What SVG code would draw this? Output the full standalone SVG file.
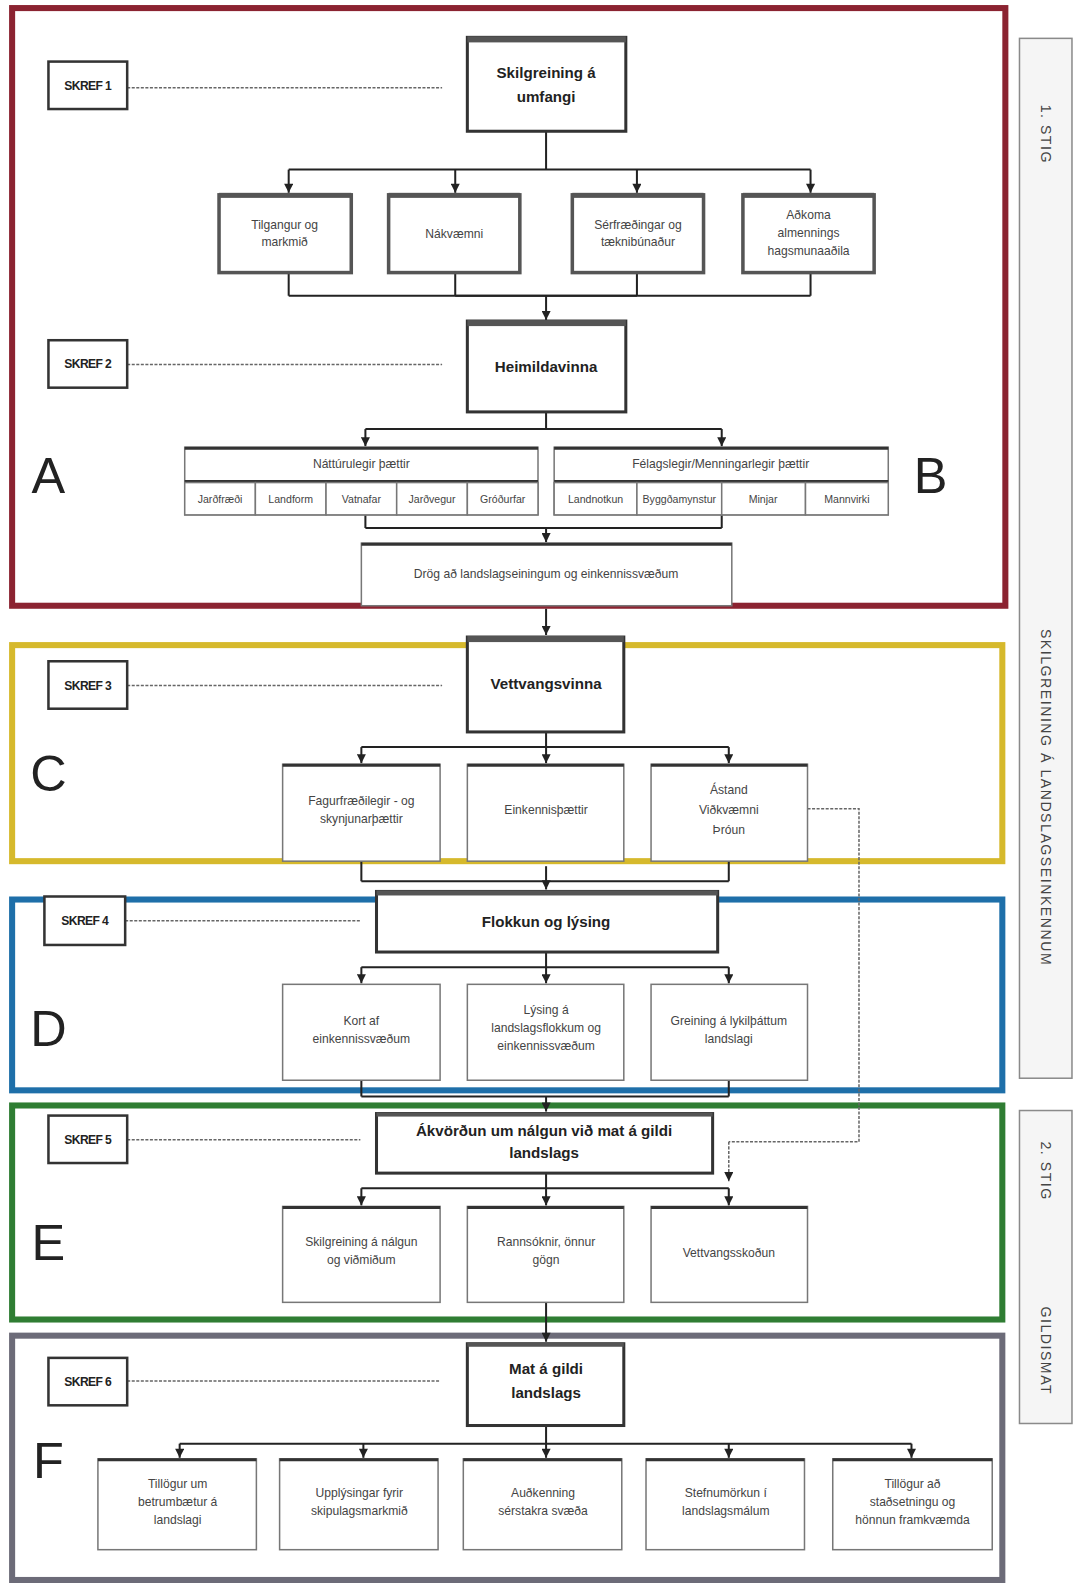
<svg xmlns="http://www.w3.org/2000/svg" width="1075" height="1583" viewBox="0 0 1075 1583">
<defs>
<marker id="ah" viewBox="0 0 10 10" refX="10" refY="5" markerWidth="11" markerHeight="9" markerUnits="userSpaceOnUse" orient="auto">
<path d="M0,0 L10,5 L0,10 Z" fill="#222"/>
</marker>
<style>
text{font-family:"Liberation Sans","DejaVu Sans",Arial,sans-serif;}
.frame{fill:none;stroke-width:6;}
.mb{fill:#fff;stroke:#333;stroke-width:3;}
.bar{fill:#555;}
.b1{fill:#fff;stroke:#555;stroke-width:3.5;}
.sb{fill:#fff;stroke:#777;stroke-width:1.5;}
.top{stroke:#333;stroke-width:3;}
.mt{font-size:15px;font-weight:bold;fill:#222;text-anchor:middle;}
.st{font-size:12px;fill:#444;text-anchor:middle;}
.xs{font-size:10.5px;fill:#444;text-anchor:middle;}
.skb{fill:#fff;stroke:#333;stroke-width:2.5;}
.skt{font-size:12px;font-weight:bold;fill:#222;text-anchor:middle;letter-spacing:-0.6px;}
.let{font-size:50px;fill:#222;text-anchor:middle;}
.dl{fill:none;stroke:#666;stroke-width:1.5;stroke-dasharray:3 1.5;}
.cn{fill:none;stroke:#222;stroke-width:2;}
.ca{fill:none;stroke:#222;stroke-width:2;marker-end:url(#ah);}
.side{fill:#f5f5f5;stroke:#8a8a8a;stroke-width:1.5;}
.sidet{font-size:14px;fill:#444;text-anchor:middle;letter-spacing:1.5px;}
</style>
</defs>
<rect width="1075" height="1583" fill="#fff"/>
<g transform="scale(1.00939 1.00957)">

<g id="frames">
<rect class="frame" x="12" y="8" width="984" height="592" stroke="#8b2331"/>
<rect class="frame" x="12" y="639" width="981" height="214" stroke="#d6b92c"/>
<rect class="frame" x="12" y="891" width="981" height="189" stroke="#1e6fa9"/>
<rect class="frame" x="12" y="1095" width="981" height="212" stroke="#2f7d33"/>
<rect class="frame" x="12" y="1323" width="981" height="242" stroke="#6c6b78"/>
</g>

<g id="letters">
<text class="let" x="48" y="488">A</text>
<text class="let" x="922" y="488">B</text>
<text class="let" x="48" y="784">C</text>
<text class="let" x="48" y="1036">D</text>
<text class="let" x="48" y="1248">E</text>
<text class="let" x="48" y="1464">F</text>
</g>

<g id="connectors">
<path class="cn" d="M541,130 V168 M286,168 H803"/>
<path class="ca" d="M286,168 V191"/>
<path class="ca" d="M451,168 V191"/>
<path class="ca" d="M631,168 V191"/>
<path class="ca" d="M803,168 V191"/>
<path class="cn" d="M286,270 V293 M451,270 V293 M631,270 V293 M803,270 V293 M286,293 H803"/>
<path class="cn" d="M451,293 H631" stroke-width="3.5"/>
<path class="ca" d="M541,293 V317"/>
<path class="cn" d="M541,408 V425 M362,425 H715"/>
<path class="ca" d="M362,425 V442"/>
<path class="ca" d="M715,425 V442"/>
<path class="cn" d="M362,510 V523 M715,510 V523 M362,523 H715"/>
<path class="ca" d="M541,523 V537"/>
<path class="ca" d="M541,603 V629"/>
<path class="cn" d="M541,725 V740 M358,740 H722"/>
<path class="ca" d="M358,740 V756"/>
<path class="ca" d="M541,740 V756"/>
<path class="ca" d="M722,740 V756"/>
<path class="cn" d="M358,853 V873 M722,853 V873 M358,873 H722"/>
<path class="ca" d="M541,858 V881"/>
<path class="cn" d="M541,943 V958 M358,958 H722"/>
<path class="ca" d="M358,958 V974"/>
<path class="ca" d="M541,958 V974"/>
<path class="ca" d="M722,958 V974"/>
<path class="cn" d="M358,1070 V1086 M722,1070 V1086 M358,1086 H722"/>
<path class="ca" d="M541,1086 V1101"/>
<path class="dl" d="M800,801 H851 V1131 H722"/>
<path d="M722,1131 V1170" fill="none" stroke="#666" stroke-width="1.5" stroke-dasharray="3 1.5" marker-end="url(#ah)"/>
<path class="cn" d="M541,1162 V1177 M358,1177 H722"/>
<path class="ca" d="M358,1177 V1194"/>
<path class="ca" d="M541,1177 V1194"/>
<path class="ca" d="M722,1177 V1194"/>
<path class="ca" d="M541,1290 V1329"/>
<path class="cn" d="M541,1412 V1430 M178,1430 H903"/>
<path class="ca" d="M178,1430 V1444"/>
<path class="ca" d="M360,1430 V1444"/>
<path class="ca" d="M541,1430 V1444"/>
<path class="ca" d="M722,1430 V1444"/>
<path class="ca" d="M903,1430 V1444"/>
<path class="dl" d="M126,87 H438 M126,361 H438 M126,679 H438 M124,912 H357 M126,1129 H357 M126,1368 H435"/>
</g>

<g id="skref1"><rect class="skb" x="48" y="61" width="78" height="47"/><text class="skt" x="87" y="89">SKREF 1</text></g>
<g id="skref2"><rect class="skb" x="48" y="337" width="78" height="47"/><text class="skt" x="87" y="365">SKREF 2</text></g>
<g id="skref3"><rect class="skb" x="48" y="655" width="78" height="47"/><text class="skt" x="87" y="683">SKREF 3</text></g>
<g id="skref4"><rect class="skb" x="44" y="888" width="80" height="48"/><text class="skt" x="84" y="916">SKREF 4</text></g>
<g id="skref5"><rect class="skb" x="48" y="1105" width="78" height="47"/><text class="skt" x="87" y="1133">SKREF 5</text></g>
<g id="skref6"><rect class="skb" x="48" y="1345" width="78" height="47"/><text class="skt" x="87" y="1373">SKREF 6</text></g>

<g id="n-skilgreining"><rect class="mb" x="463" y="37" width="157" height="93"/><rect class="bar" x="463" y="36" width="157" height="6"/>
<text class="mt" x="541" y="77" font-size="16">Skilgreining á</text><text class="mt" x="541" y="101" font-size="16">umfangi</text></g>

<g id="n-tilgangur"><rect class="b1" x="217" y="193" width="131" height="77"/><rect class="bar" x="217" y="191" width="131" height="5"/>
<text class="st" x="282" y="227">Tilgangur og</text><text class="st" x="282" y="244">markmið</text></g>
<g id="n-nakvaemni"><rect class="b1" x="385" y="193" width="130" height="77"/><rect class="bar" x="385" y="191" width="130" height="5"/>
<text class="st" x="450" y="236">Nákvæmni</text></g>
<g id="n-serfraedingar"><rect class="b1" x="567" y="193" width="130" height="77"/><rect class="bar" x="567" y="191" width="130" height="5"/>
<text class="st" x="632" y="227">Sérfræðingar og</text><text class="st" x="632" y="244">tæknibúnaður</text></g>
<g id="n-adkoma"><rect class="b1" x="736" y="193" width="130" height="77"/><rect class="bar" x="736" y="191" width="130" height="5"/>
<text class="st" x="801" y="217">Aðkoma</text><text class="st" x="801" y="235">almennings</text><text class="st" x="801" y="253">hagsmunaaðila</text></g>

<g id="n-heimildavinna"><rect class="mb" x="463" y="318" width="157" height="90"/><rect class="bar" x="463" y="317" width="157" height="6"/>
<text class="mt" x="541" y="368">Heimildavinna</text></g>

<g id="n-natturulegir"><rect class="sb" x="183" y="443" width="350" height="67"/><line class="top" x1="183" y1="444" x2="533" y2="444"/><line class="top" x1="183" y1="477" x2="533" y2="477"/>
<text class="st" x="358" y="464">Náttúrulegir þættir</text>
<rect class="sb" x="183" y="478" width="70" height="32"/><rect class="sb" x="253" y="478" width="70" height="32"/><rect class="sb" x="323" y="478" width="70" height="32"/><rect class="sb" x="393" y="478" width="70" height="32"/><rect class="sb" x="463" y="478" width="70" height="32"/>
<text class="xs" x="218" y="498">Jarðfræði</text><text class="xs" x="288" y="498">Landform</text><text class="xs" x="358" y="498">Vatnafar</text><text class="xs" x="428" y="498">Jarðvegur</text><text class="xs" x="498" y="498">Gróðurfar</text></g>

<g id="n-felagslegir"><rect class="sb" x="549" y="443" width="331" height="67"/><line class="top" x1="549" y1="444" x2="880" y2="444"/><line class="top" x1="549" y1="477" x2="880" y2="477"/>
<text class="st" x="714" y="464">Félagslegir/Menningarlegir þættir</text>
<rect class="sb" x="549" y="478" width="82" height="32"/><rect class="sb" x="631" y="478" width="84" height="32"/><rect class="sb" x="715" y="478" width="83" height="32"/><rect class="sb" x="798" y="478" width="82" height="32"/>
<text class="xs" x="590" y="498">Landnotkun</text><text class="xs" x="673" y="498">Byggðamynstur</text><text class="xs" x="756" y="498">Minjar</text><text class="xs" x="839" y="498">Mannvirki</text></g>

<g id="n-drog"><rect class="sb" x="358" y="538" width="367" height="62"/><line class="top" x1="358" y1="539" x2="725" y2="539"/>
<text class="st" x="541" y="573">Drög að landslagseiningum og einkennissvæðum</text></g>

<g id="n-vettvangsvinna"><rect class="mb" x="463" y="631" width="155" height="94"/><rect class="bar" x="463" y="630" width="155" height="6"/>
<text class="mt" x="541" y="682">Vettvangsvinna</text></g>

<g id="n-fagurfraedilegir"><rect class="sb" x="280" y="757" width="156" height="96"/><line class="top" x1="280" y1="758" x2="436" y2="758"/>
<text class="st" x="358" y="797">Fagurfræðilegir - og</text><text class="st" x="358" y="815">skynjunarþættir</text></g>
<g id="n-einkennisthaettir"><rect class="sb" x="463" y="757" width="155" height="96" stroke="#444"/><line class="top" x1="463" y1="758" x2="618" y2="758"/>
<text class="st" x="541" y="806">Einkennisþættir</text></g>
<g id="n-astand"><rect class="sb" x="645" y="757" width="155" height="96"/><line class="top" x1="645" y1="758" x2="800" y2="758"/>
<text class="st" x="722" y="786">Ástand</text><text class="st" x="722" y="806">Viðkvæmni</text><text class="st" x="722" y="826">Þróun</text></g>

<g id="n-flokkun"><rect class="mb" x="373" y="883" width="338" height="60"/><rect class="bar" x="373" y="882" width="338" height="5"/>
<text class="mt" x="541" y="918">Flokkun og lýsing</text></g>

<g id="n-kort"><rect class="sb" x="280" y="975" width="156" height="95"/>
<text class="st" x="358" y="1015">Kort af</text><text class="st" x="358" y="1033">einkennissvæðum</text></g>
<g id="n-lysing"><rect class="sb" x="463" y="975" width="155" height="95"/>
<text class="st" x="541" y="1004">Lýsing á</text><text class="st" x="541" y="1022">landslagsflokkum og</text><text class="st" x="541" y="1040">einkennissvæðum</text></g>
<g id="n-greining"><rect class="sb" x="645" y="975" width="155" height="95"/>
<text class="st" x="722" y="1015">Greining á lykilþáttum</text><text class="st" x="722" y="1033">landslagi</text></g>

<g id="n-akvordun"><rect class="mb" x="373" y="1103" width="333" height="59"/><rect class="bar" x="373" y="1102" width="333" height="4"/>
<text class="mt" x="539" y="1125">Ákvörðun um nálgun við mat á gildi</text><text class="mt" x="539" y="1147">landslags</text></g>

<g id="n-skilgreining-nalgun"><rect class="sb" x="280" y="1195" width="156" height="95"/><line class="top" x1="280" y1="1196" x2="436" y2="1196"/>
<text class="st" x="358" y="1234">Skilgreining á nálgun</text><text class="st" x="358" y="1252">og viðmiðum</text></g>
<g id="n-rannsoknir"><rect class="sb" x="463" y="1195" width="155" height="95"/><line class="top" x1="463" y1="1196" x2="618" y2="1196"/>
<text class="st" x="541" y="1234">Rannsóknir, önnur</text><text class="st" x="541" y="1252">gögn</text></g>
<g id="n-vettvangsskodun"><rect class="sb" x="645" y="1195" width="155" height="95"/><line class="top" x1="645" y1="1196" x2="800" y2="1196"/>
<text class="st" x="722" y="1245">Vettvangsskoðun</text></g>

<g id="n-mat"><rect class="mb" x="463" y="1331" width="155" height="81"/><rect class="bar" x="463" y="1330" width="155" height="4"/>
<text class="mt" x="541" y="1361" font-size="16">Mat á gildi</text><text class="mt" x="541" y="1385" font-size="16">landslags</text></g>

<g id="n-tillogur-betrumbaetur"><rect class="sb" x="97" y="1445" width="157" height="90"/><line class="top" x1="97" y1="1446" x2="254" y2="1446"/>
<text class="st" x="176" y="1474">Tillögur um</text><text class="st" x="176" y="1492">betrumbætur á</text><text class="st" x="176" y="1510">landslagi</text></g>
<g id="n-upplysingar"><rect class="sb" x="277" y="1445" width="157" height="90"/><line class="top" x1="277" y1="1446" x2="434" y2="1446"/>
<text class="st" x="356" y="1483">Upplýsingar fyrir</text><text class="st" x="356" y="1501">skipulagsmarkmið</text></g>
<g id="n-audkenning"><rect class="sb" x="459" y="1445" width="157" height="90"/><line class="top" x1="459" y1="1446" x2="616" y2="1446"/>
<text class="st" x="538" y="1483">Auðkenning</text><text class="st" x="538" y="1501">sérstakra svæða</text></g>
<g id="n-stefnumorkun"><rect class="sb" x="640" y="1445" width="157" height="90"/><line class="top" x1="640" y1="1446" x2="797" y2="1446"/>
<text class="st" x="719" y="1483">Stefnumörkun í</text><text class="st" x="719" y="1501">landslagsmálum</text></g>
<g id="n-tillogur-stadsetningu"><rect class="sb" x="825" y="1445" width="158" height="90"/><line class="top" x1="825" y1="1446" x2="983" y2="1446"/>
<text class="st" x="904" y="1474">Tillögur að</text><text class="st" x="904" y="1492">staðsetningu og</text><text class="st" x="904" y="1510">hönnun framkvæmda</text></g>

<g id="stig1"><rect class="side" x="1010" y="38" width="52" height="1030"/>
<text class="sidet" transform="translate(1036,133) rotate(90)" y="5">1. STIG</text>
<text class="sidet" transform="translate(1036,790) rotate(90)" y="5">SKILGREINING Á LANDSLAGSEINKENNUM</text></g>
<g id="stig2"><rect class="side" x="1010" y="1100" width="52" height="310"/>
<text class="sidet" transform="translate(1036,1160) rotate(90)" y="5">2. STIG</text>
<text class="sidet" transform="translate(1036,1338) rotate(90)" y="5">GILDISMAT</text></g>

</g>
</svg>
